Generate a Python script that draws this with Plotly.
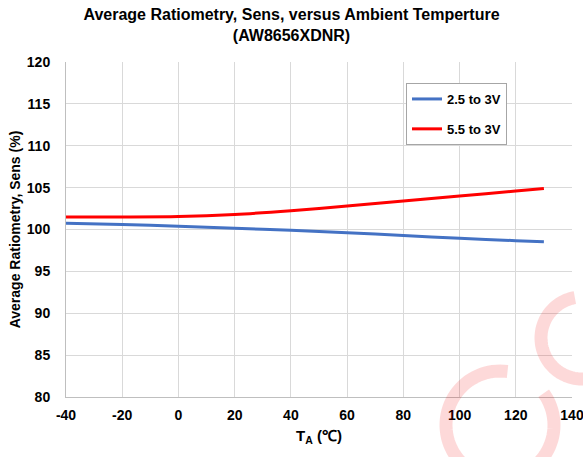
import numpy as np
import plotly.graph_objects as go

temps = [-40, -20, 0, 20, 40, 60, 80, 100, 120, 130]
sens_25 = [100.75, 100.6, 100.4, 100.15, 99.9, 99.62, 99.28, 98.95, 98.67, 98.55]
sens_55 = [101.5, 101.5, 101.55, 101.8, 102.25, 102.8, 103.4, 104.0, 104.6, 104.9]
series_names = ["2.5 to 3V", "5.5 to 3V"]
series_colors = ["#4472C4", "#FF0000"]
x_ticks = [-40, -20, 0, 20, 40, 60, 80, 100, 120, 140]
x_tick_text = ["-40", "-20", "0", "20", "40", "60", "80", "100", "120", "140"]
y_ticks = [80, 85, 90, 95, 100, 105, 110, 115, 120]

W, H = 583, 457
L, R, T, B = 66, 11, 62, 60
pw, ph = W - L - R, H - T - B

font = "Liberation Sans, Arial, sans-serif"

fig = go.Figure()
for i, (name, ys) in enumerate(zip(series_names, [sens_25, sens_55])):
    fig.add_trace(go.Scatter(
        x=temps, y=ys, mode="lines", name=name, legendgroup=f"g{i}",
        line=dict(color=series_colors[i], width=3, shape="spline", smoothing=0.8),
    ))

# watermark arcs (decoration), pixel -> paper
def arc_path(cx, cy, r, a0, a1, n=80):
    th = np.radians(np.linspace(a0, a1, n))
    px = cx + r * np.cos(th)
    py = cy + r * np.sin(th)
    xs = (px - L) / pw
    ys = (H - B - py) / ph
    return "M " + " L ".join(f"{x:.4f},{y:.4f}" for x, y in zip(xs, ys))

wm = "rgba(240,0,0,0.15)"
for cx, cy, r, a0, a1, w in [(582, 338, 41, -100, -285, 13), (500, 425, 54, -82, -396, 13)]:
    fig.add_shape(type="path", xref="paper", yref="paper", path=arc_path(cx, cy, r, a0, a1),
                  line=dict(color=wm, width=w), layer="above")

axis_common = dict(
    showgrid=True, gridcolor="#D9D9D9", gridwidth=1,
    showline=True, linecolor="#BFBFBF", linewidth=1,
    zeroline=False, ticks="", ticklabeloverflow="allow", automargin=False,
    tickfont=dict(family=font, size=14, color="#000000", weight="bold"),
)
fig.update_xaxes(range=[-40, 140], tickmode="array", tickvals=x_ticks, ticktext=x_tick_text,
                 ticklabelstandoff=5,
                 title=dict(text="T<sub>A</sub> (℃)", standoff=8,
                            font=dict(family=font, size=15, color="#000000", weight="bold")),
                 **axis_common)
fig.update_yaxes(range=[80, 120], tickmode="array", tickvals=y_ticks, ticklabelstandoff=12,
                 title=dict(text="Average Ratiometry, Sens (%)", standoff=2,
                            font=dict(family=font, size=14, color="#000000", weight="bold")),
                 **axis_common)

fig.update_layout(
    width=W, height=H,
    margin=dict(l=L, r=R, t=T, b=B, autoexpand=False),
    paper_bgcolor="white", plot_bgcolor="white",
    title=dict(text="Average Ratiometry, Sens, versus Ambient Temperture<br>(AW8656XDNR)",
               x=0.5, xanchor="center", xref="container", yref="container",
               y=1 - 20 / H, yanchor="bottom",
               font=dict(family=font, size=16, color="#000000", weight="bold")),
    legend=dict(x=(406 - L) / pw, y=(H - B - 83) / ph, xanchor="left", yanchor="top",
                bordercolor="#A6A6A6", borderwidth=1, bgcolor="white",
                tracegroupgap=10,
                font=dict(family=font, size=13, color="#000000", weight="bold")),
    showlegend=True,
)

fig.write_html("out.html")
